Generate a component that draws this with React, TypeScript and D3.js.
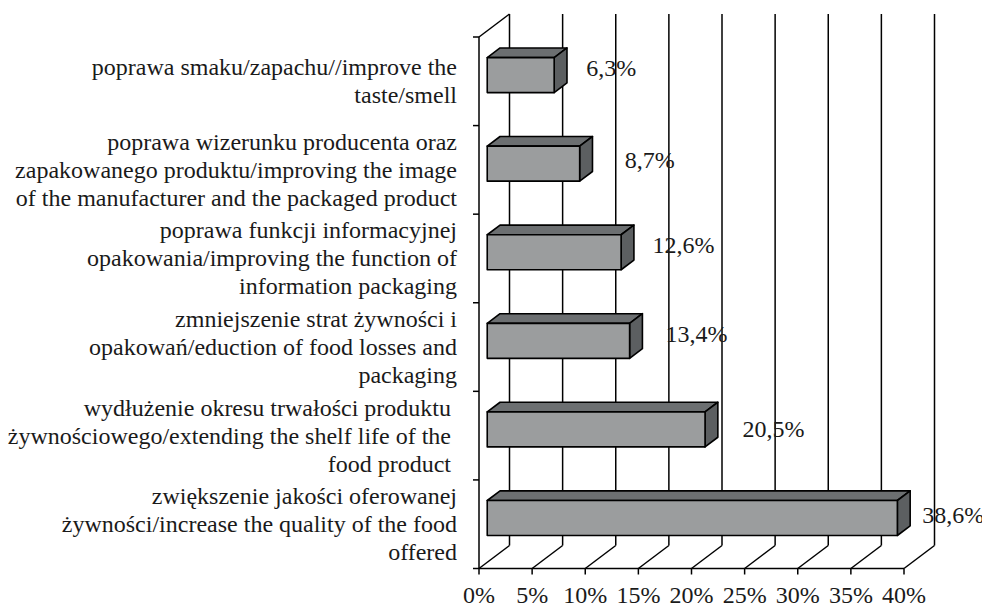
import React from "react";
import * as d3 from "d3";

const categories: string[][] = [
  ["poprawa smaku/zapachu//improve the", "taste/smell"],
  ["poprawa wizerunku producenta oraz", "zapakowanego produktu/improving the image", "of the manufacturer and the packaged product"],
  ["poprawa funkcji informacyjnej", "opakowania/improving the function of", "information packaging"],
  ["zmniejszenie strat żywności i", "opakowań/eduction of food losses and", "packaging"],
  ["wydłużenie okresu trwałości produktu ", "żywnościowego/extending the shelf life of the ", "food product "],
  ["zwiększenie jakości oferowanej", "żywności/increase the quality of the food", "offered"],
];
const values: number[] = [6.3, 8.7, 12.6, 13.4, 20.5, 38.6];
const valueLabels: string[] = ["6,3%", "8,7%", "12,6%", "13,4%", "20,5%", "38,6%"];
const ticks: number[] = [0, 5, 10, 15, 20, 25, 30, 35, 40];
const tickLabels: string[] = ["0%", "5%", "10%", "15%", "20%", "25%", "30%", "35%", "40%"];

// label nudges (manual placement as in the original)
const labelNudge: [number, number][] = [[32, -5], [45, -2], [31.5, -5.5], [36, -5.5], [37.5, 1], [25, -1.5]];

const W = 982, H = 605;
const FONT = "'Liberation Serif', 'Times New Roman', serif";

export default function App() {
  const top = 37, bottom = 568.5;
  const DX = 30.5, DY = -23;
  const f1 = 0.27, f2 = 0.69;
  const x = d3.scaleLinear().domain([0, 40]).range([479, 904]);
  const ids = categories.map((_, i) => String(i));
  const y = d3.scaleBand<string>().domain(ids).range([top, bottom]).paddingInner(0).paddingOuter(0);
  const bw = y.bandwidth();
  const barH = bw * 0.395;
  const lineH = 28;

  const x0 = x(0);
  const x40 = x(40);

  return (
    <svg width={W} height={H} style={{ position: "absolute", left: 0, top: 0, background: "#fff" }} fontFamily={FONT}>
      <rect x={0} y={0} width={W} height={H} fill="#fff" />
      {/* back wall gridlines */}
      {ticks.map((t) => (
        <line key={"g" + t} x1={x(t) + DX} x2={x(t) + DX} y1={top + DY} y2={bottom + DY} stroke="#000" strokeWidth={1.5} />
      ))}
      {/* floor diagonals */}
      {ticks.map((t) => (
        <line key={"f" + t} x1={x(t) + DX} y1={bottom + DY} x2={x(t)} y2={bottom} stroke="#000" strokeWidth={1.5} />
      ))}
      {/* left wall top edge */}
      <line x1={x0} y1={top} x2={x0 + DX} y2={top + DY} stroke="#000" strokeWidth={1.5} />
      {/* front axis lines */}
      <line x1={x0} y1={top} x2={x0} y2={bottom} stroke="#000" strokeWidth={1.5} />
      <line x1={x0} y1={bottom} x2={x40} y2={bottom} stroke="#000" strokeWidth={1.5} />
      {/* left ticks */}
      {[...ids.map((id) => y(id)!), bottom].map((yy, i) => (
        <line key={"lt" + i} x1={x0 - 6} x2={x0} y1={yy} y2={yy} stroke="#000" strokeWidth={1.5} />
      ))}
      {/* bottom ticks */}
      {ticks.map((t) => (
        <line key={"bt" + t} x1={x(t)} x2={x(t)} y1={bottom} y2={bottom + 6} stroke="#000" strokeWidth={1.5} />
      ))}
      {/* bars */}
      {values.map((v, i) => {
        const c = y(ids[i])! + bw / 2;
        const fx0 = x0 + DX * f1;
        const fx1 = x(v) + DX * f1;
        const fy0 = c + DY * f1 - barH / 2;
        const fy1 = fy0 + barH;
        const ddx = DX * (f2 - f1);
        const ddy = DY * (f2 - f1);
        const topFace = `M${fx0},${fy0} L${fx0 + ddx},${fy0 + ddy} L${fx1 + ddx},${fy0 + ddy} L${fx1},${fy0} Z`;
        const sideFace = `M${fx1},${fy0} L${fx1 + ddx},${fy0 + ddy} L${fx1 + ddx},${fy1 + ddy} L${fx1},${fy1} Z`;
        return (
          <g key={"b" + i} stroke="#000" strokeWidth={1.6} strokeLinejoin="round">
            <path d={topFace} fill="#6c6f71" />
            <path d={sideFace} fill="#5c5f61" />
            <rect x={fx0} y={fy0} width={fx1 - fx0} height={barH} fill="#9b9d9e" />
          </g>
        );
      })}
      {/* value labels */}
      {values.map((v, i) => {
        const c = y(ids[i])! + bw / 2;
        return (
          <text key={"v" + i} x={x(v) + DX * f1 + labelNudge[i][0]} y={c + labelNudge[i][1]} fontSize={24} fill="#1a1a1a">
            {valueLabels[i]}
          </text>
        );
      })}
      {/* category labels */}
      {categories.map((lines, i) => {
        const c = y(ids[i])! + bw / 2;
        const first = c - ((lines.length - 1) / 2) * lineH + 8;
        return (
          <text key={"c" + i} textAnchor="end" fontSize={24} fill="#1a1a1a" style={{ whiteSpace: "pre" }}>
            {lines.map((ln, j) => (
              <tspan key={j} x={457} y={first + j * lineH}>{ln}</tspan>
            ))}
          </text>
        );
      })}
      {/* tick labels */}
      {ticks.map((t, i) => (
        <text key={"tl" + t} x={x(t)} y={603} textAnchor="middle" fontSize={24} fill="#1a1a1a">
          {tickLabels[i]}
        </text>
      ))}
    </svg>
  );
}
